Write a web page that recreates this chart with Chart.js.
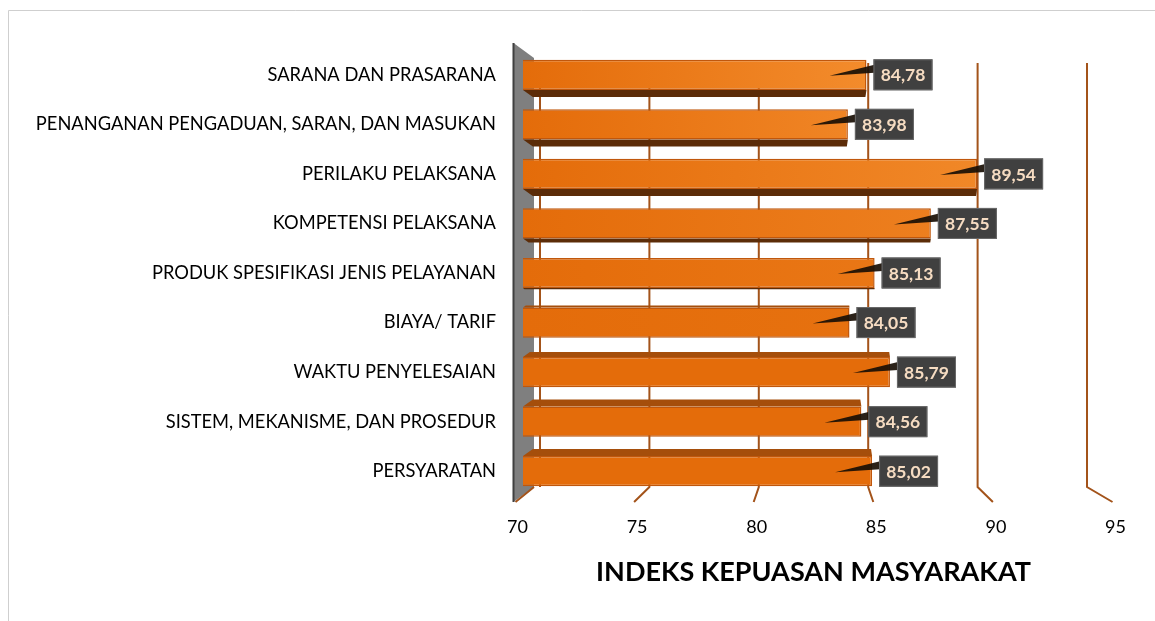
<!DOCTYPE html>
<html>
<head>
<meta charset="utf-8">
<script src="https://cdn.jsdelivr.net/npm/chart.js@4.4.0/dist/chart.umd.min.js"></script>
<style>
  html, body { margin: 0; padding: 0; background: #fff; }
  #wrap { width: 1155px; height: 621px; position: relative; }
</style>
</head>
<body>
<div id="wrap"><canvas id="ikmChart" width="1155" height="621"></canvas></div>
<script>
// Categories, top to bottom as in the picture
const categories = [
  "SARANA DAN PRASARANA",
  "PENANGANAN PENGADUAN, SARAN, DAN MASUKAN",
  "PERILAKU PELAKSANA",
  "KOMPETENSI PELAKSANA",
  "PRODUK SPESIFIKASI JENIS PELAYANAN",
  "BIAYA/ TARIF",
  "WAKTU PENYELESAIAN",
  "SISTEM, MEKANISME, DAN PROSEDUR",
  "PERSYARATAN"
];
const ikmValues = [84.78, 83.98, 89.54, 87.55, 85.13, 84.05, 85.79, 84.56, 85.02];
const xTicks = [70, 75, 80, 85, 90, 95];
const axisTitle = "INDEKS KEPUASAN MASYARAKAT";

const FONT = "Lato, 'Open Sans', sans-serif";
const GRID_COLOR = "#a3531a";

// perspective helpers (back wall and floor edge are scaled around the plot centre)
function backX(area, px) { let c = (area.left + area.right) / 2; return c + (px - c) * 0.9415; }
function floorX(area, px) { let c = (area.left + area.right) / 2; return c + (px - c) * 1.0293; }

function fmt(v) { return v.toFixed(2).replace(".", ","); }

// Frame, wall and gridlines behind the bars
const backdrop = {
  id: "backdrop",
  beforeDraw(chart) {
    let ctx = chart.ctx;
    ctx.save();
    ctx.strokeStyle = "#cfcfcf";
    ctx.lineWidth = 1;
    ctx.beginPath();
    ctx.moveTo(8.5, 621);
    ctx.lineTo(8.5, 10.5);
    ctx.lineTo(1155, 10.5);
    ctx.stroke();
    ctx.restore();
  },
  beforeDatasetsDraw(chart) {
    let ctx = chart.ctx, area = chart.chartArea, xs = chart.scales.x;
    ctx.save();
    // grey wall on the left
    let wf = floorX(area, xs.getPixelForValue(70)) - 1;
    let wb = backX(area, xs.getPixelForValue(70)) - 6;
    ctx.fillStyle = "#7f7f7f";
    ctx.beginPath();
    ctx.moveTo(wf, area.top - 7);
    ctx.lineTo(wb, area.top + 8);
    ctx.lineTo(wb, area.bottom - 9);
    ctx.lineTo(wf, area.bottom + 6);
    ctx.closePath();
    ctx.fill();
    ctx.strokeStyle = "#404040";
    ctx.lineWidth = 2;
    ctx.beginPath();
    ctx.moveTo(wf, area.top - 7);
    ctx.lineTo(wf, area.bottom + 6);
    ctx.stroke();

    // gridlines: vertical on the back wall, diagonal across the floor
    ctx.strokeStyle = GRID_COLOR;
    ctx.lineWidth = 2;
    xTicks.forEach(function (v) {
      let px = xs.getPixelForValue(v);
      let bx = backX(area, px), fx = floorX(area, px);
      ctx.beginPath();
      ctx.moveTo(bx, area.top + 13);
      ctx.lineTo(bx, area.bottom - 9);
      if (v === 70) {
        ctx.moveTo(wb, area.bottom - 9);
      }
      ctx.lineTo(fx + (v === 70 ? 1 : 0), area.bottom + 6);
      ctx.stroke();
    });

    // depth faces of the bars
    let meta = chart.getDatasetMeta(0);
    meta.data.forEach(function (bar) {
      let top = bar.y - bar.height / 2, bottom = bar.y + bar.height / 2;
      let left = Math.max(area.left, Math.min(bar.base, bar.x));
      let t = Math.min(7, Math.abs(bar.y - 290) * 0.06);
      ctx.beginPath();
      if (bar.y < 290) {
        ctx.fillStyle = "#5c2c08";
        ctx.moveTo(left, bottom);
        ctx.lineTo(bar.x, bottom);
        ctx.lineTo(bar.x - 0.15 * t, bottom + t);
        ctx.lineTo(left + 1.4 * t, bottom + t);
      } else {
        ctx.fillStyle = "#a54e0b";
        ctx.moveTo(left, top);
        ctx.lineTo(bar.x, top);
        ctx.lineTo(bar.x - 0.15 * t, top - t);
        ctx.lineTo(left + 1.4 * t, top - t);
      }
      ctx.closePath();
      ctx.fill();
    });
    ctx.restore();
  },
  afterDatasetsDraw(chart) {
    let ctx = chart.ctx, area = chart.chartArea, xs = chart.scales.x;
    ctx.save();
    // value callouts
    let meta = chart.getDatasetMeta(0);
    meta.data.forEach(function (bar, i) {
      let bx = bar.x + 7, bw = 59, bh = 31, by = bar.y - bh / 2;
      ctx.fillStyle = "rgba(25,15,5,0.92)";
      ctx.beginPath();
      ctx.moveTo(bar.x - 37, bar.y + 1);
      ctx.lineTo(bx + 1, bar.y - 10);
      ctx.lineTo(bx + 1, bar.y - 2);
      ctx.closePath();
      ctx.fill();
      ctx.fillStyle = "#404040";
      ctx.fillRect(bx, by, bw, bh);
      ctx.strokeStyle = "#6a6a6a";
      ctx.lineWidth = 1;
      ctx.strokeRect(bx + 0.5, by + 0.5, bw - 1, bh - 1);
      ctx.fillStyle = "#f6dcc2";
      ctx.font = "bold 17.5px " + FONT;
      ctx.textAlign = "center";
      ctx.textBaseline = "middle";
      ctx.fillText(fmt(ikmValues[i]), bx + bw / 2, bar.y + 1);
    });
    // x tick labels on the floor edge
    ctx.fillStyle = "#000";
    ctx.font = "18px " + FONT;
    ctx.textAlign = "center";
    ctx.textBaseline = "middle";
    xTicks.forEach(function (v) {
      ctx.fillText(String(v), floorX(area, xs.getPixelForValue(v)) + 3, area.bottom + 31);
    });
    ctx.restore();
  }
};

let ctx = document.getElementById("ikmChart").getContext("2d");
let ikmChart = new Chart(ctx, {
  type: "bar",
  data: {
    labels: categories,
    datasets: [{
      label: "IKM",
      data: ikmValues,
      backgroundColor: function (c) {
        let area = c.chart.chartArea;
        if (!area) return "#e46c0a";
        let g = c.chart.ctx.createLinearGradient(area.left, 0, area.left + 460, 0);
        // brighter highlight on the upper bars
        let k = Math.max(0, 1 - c.dataIndex / 6);
        let r = 228 + Math.round(20 * k), gg = 108 + Math.round(42 * k), b = 10 + Math.round(45 * k);
        g.addColorStop(0, "#e46c0a");
        g.addColorStop(1, "rgb(" + r + "," + gg + "," + b + ")");
        return g;
      },
      borderColor: "#c0570c",
      borderWidth: 1.5,
      borderSkipped: false,
      barPercentage: 0.61,
      categoryPercentage: 1,
    }],
  },
  options: {
    indexAxis: "y",
    responsive: false,
    animation: false,
    layout: { padding: { left: 0, right: 51, top: 50, bottom: 0 } },
    plugins: {
      legend: { display: false },
      tooltip: { enabled: false },
    },
    scales: {
      x: {
        min: 70,
        max: 95,
        ticks: { stepSize: 5, color: "rgba(0,0,0,0)", font: { size: 18, family: FONT } },
        grid: { display: false },
        border: { display: false },
        title: {
          display: true,
          text: axisTitle,
          color: "#000",
          font: { size: 27, weight: "bold", family: FONT },
          padding: { top: 0, bottom: 33 },
        },
        afterFit(scale) { scale.height = 125; },
      },
      y: {
        ticks: { color: "#000", padding: 27, font: { size: 18.3, family: FONT } },
        grid: { display: false, drawTicks: false },
        border: { display: false },
        afterFit(scale) { scale.width = 523; },
      },
    },
  },
  plugins: [backdrop],
});
</script>
</body>
</html>
